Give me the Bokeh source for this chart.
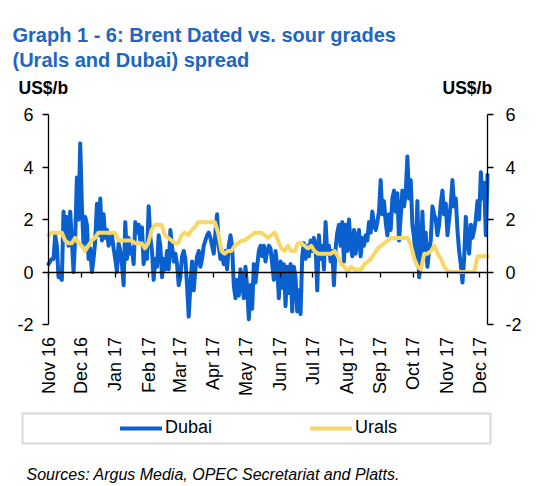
import math
import numpy as np
import pandas as pd
from bokeh.plotting import figure
from bokeh.models import (Range1d, LinearAxis, DatetimeAxis, FixedTicker, DatetimeTickFormatter,
                          Legend, LegendItem)
from bokeh.core.properties import value
from bokeh.embed import file_html
from bokeh.resources import INLINE

# ---------------- data ----------------
title_lines = ["Graph 1 - 6: Brent Dated vs. sour grades", "(Urals and Dubai) spread"]
unit_label = "US$/b"
source_text = "Sources: Argus Media, OPEC Secretariat and Platts."
series_names = ["Dubai", "Urals"]

months = ["2016-11-01", "2016-12-01", "2017-01-01", "2017-02-01", "2017-03-01", "2017-04-01",
          "2017-05-01", "2017-06-01", "2017-07-01", "2017-08-01", "2017-09-01", "2017-10-01",
          "2017-11-01", "2017-12-01"]
period_start = "2016-11-01"
period_end = "2017-12-08"

dubai = [0.3, 0.4, 0.5, 0.5, 1.4, 1.0, -0.2, -0.2, -0.3, 2.3, 1.2, 2.1, 1.0, 2.3, 1.2, 0.0,
         1.3, 3.6, 2.0, 4.9, 2.5, 1.0, 2.1, 1.8, 0.5, 0.9, 0.0, 0.5, 1.2, 2.6, 1.4, 2.8,
         1.2, 2.2, 1.3, 1.6, 1.0, 1.2, 1.4, 0.9, 0.5, 0.0, 1.1, 0.8, 0.3, -0.5, 1.9, 0.5,
         1.3, 0.7, 0.9, 0.3, 1.9, 1.5, 1.8, 1.2, 1.7, 0.3, 0.9, 0.5, 2.5, 1.3, 0.8, -0.3,
         0.5, 0.2, 1.4, 1.0, -0.2, 0.5, 0.1, 0.8, 0.1, 1.6, 1.0, 0.4, 0.7, 0.3, -0.5, -0.2,
         0.6, 0.8, 0.5, -0.5, -1.7, -0.5, 0.4, -0.7, 0.1, 0.6, 0.8, 0.2, 0.5, 1.0, 1.2, 1.4,
         1.5, 1.3, 1.0, 0.7, 1.5, 2.2, 1.0, 0.5, 0.6, 0.3, 0.8, 0.1, 1.0, 1.4, 1.0, -0.5,
         -1.0, -0.3, -0.9, 0.1, -0.4, -1.0, 0.2, -0.6, -1.8, -0.5, -1.4, 0.3, -0.4, 0.2, 0.8,
         1.0, 0.6, 1.0, 0.4, 0.8, 1.0, 0.9, 0.3, -0.3,
         0.8, 0.2, -1.0, 0.4, -0.6, 0.3, -1.3, 0.2, -0.8, 0.3, -1.5, 0.2, -0.2, -1.5, -0.7,
         -1.6, 0.6, 1.1, 0.5, 1.0, 0.6, 1.2, 0.8, 1.3, 1.0, -0.7, 1.4, 0.5, 1.0, 0.1, 1.9,
         0.7, 1.0, 0.4, 0.8, -0.5, 0.9, 1.5, 1.8, 1.0, 1.9, 0.4, 1.8, 0.8, 2.0, 1.0, 0.6,
         1.6, 0.7, 1.3, 1.6, 0.6, 1.3, 1.0, 1.4, 1.2, 1.9, 1.5, 2.3, 1.8, 1.6, 1.9, 2.3,
         3.5, 2.2, 2.7, 1.9, 1.4, 2.2, 1.6, 2.8, 3.1, 2.3, 3.0, 1.2, 2.1, 3.1, 2.5, 3.0,
         4.4, 2.8, 3.5, 1.8, 1.3, 0.5, 2.7, -0.2, 0.3, 2.3, 0.5, 1.5, 0.2, 0.8, 1.2, 2.5,
         2.2, 2.0, 1.4, 1.8, 2.6, 3.1, 2.2, 2.6, 1.4, 2.0, 2.6, 3.5, 2.5, 2.8, 1.6, 0.8,
         0.3, -0.4, 0.5, 2.1, 1.2, 0.7, 1.8, 1.3, 1.6, 2.0, 2.7, 2.0, 3.8, 2.8, 3.4, 1.4, 3.7]

urals = [1.4, 1.5, 1.5, 1.5, 1.5, 1.2, 1.1, 1.1, 1.3, 1.1, 1.0, 0.8, 1.0, 1.2, 1.3, 1.5,
         1.5, 1.5, 1.5, 1.5, 1.5, 1.2, 1.2, 1.2, 1.2, 1.2, 1.1, 1.1, 1.1, 0.9, 1.1, 1.6,
         1.8, 1.8, 1.8, 1.4, 1.3, 1.2, 1.1, 1.1, 1.4, 1.5, 1.4, 1.6, 1.7, 1.9, 1.9, 1.9,
         1.9, 1.9, 1.9, 1.5, 0.8, 0.7, 0.8, 0.8, 1.0, 1.1, 1.2, 1.2, 1.3, 1.4, 1.5, 1.5,
         1.5, 1.4, 1.3, 1.4, 1.5,
         1.2, 0.9, 0.8, 1.0, 0.8, 0.8, 1.1, 1.1, 1.0, 0.9, 1.0, 0.8, 0.7, 0.7, 0.7, 0.7,
         0.7, 0.8, 0.6, 0.3, 0.2, 0.0, 0.2, 0.1, 0.1, 0.1, 0.3, 0.4, 0.5, 0.7, 0.9, 1.0,
         1.1, 1.2, 1.3, 1.3, 1.3, 1.3, 1.3, 1.3, 1.0, 0.5, 0.2, 0.1, 0.7, 0.7, 0.8, 1.0,
         0.7, 0.5, 0.2, 0.05, 0.0, 0.0, 0.0, 0.0, 0.0, 0.0, 0.0, 0.0, 0.6, 0.6, 0.6, 0.6]

y_min, y_max = -2, 6
y_ticks = [-2, 0, 2, 4, 6]

# ---------------- style / layout ----------------
DUBAI_COLOR = "#0A60CE"
URALS_COLOR = "#F8D766"
TITLE_COLOR = "#1E66BE"
FONT = "Liberation Sans"
W, H = 550, 486
PLOT_L, PLOT_R, PLOT_T, PLOT_B = 48, 487, 114, 324   # chart area in canvas pixels
MONTH_LABEL_TOP = 337

dubai_dates = pd.date_range(period_start, period_end, periods=len(dubai))
urals_dates = pd.date_range(period_start, period_end, periods=len(urals))
month_ms = [d.value / 1e6 for d in pd.to_datetime(months)]
t0 = pd.Timestamp(period_start).value / 1e6
t1 = pd.Timestamp(period_end).value / 1e6

# ranges extended so that the chart area sits at PLOT_* inside a full-canvas frame
kx = (t1 - t0) / (PLOT_R - PLOT_L)
ky = (y_max - y_min) / (PLOT_B - PLOT_T)
x_range = Range1d(t0 - PLOT_L * kx, t1 + (W - PLOT_R) * kx)
y_range = Range1d(y_min - (H - PLOT_B) * ky, y_max + PLOT_T * ky)
zero_px = PLOT_T + (PLOT_B - PLOT_T) * y_max / (y_max - y_min)

p = figure(width=W, height=H, output_backend="svg", toolbar_location=None, title=None,
           x_range=x_range, y_range=y_range, x_axis_location=None, y_axis_location=None,
           min_border=0, min_border_left=0, min_border_right=0,
           min_border_top=0, min_border_bottom=0)
p.extra_x_ranges = {"px": Range1d(0, W)}
p.extra_y_ranges = {"px": Range1d(H, 0)}
p.outline_line_color = None
p.grid.visible = False
p.background_fill_color = "white"
p.border_fill_color = "white"

# x axis on the zero line: line + month ticks, labels hanging below the chart
TICK_OUT = 5
xa = DatetimeAxis(fixed_location=0, bounds=(t0, t1),
                  ticker=FixedTicker(ticks=month_ms),
                  formatter=DatetimeTickFormatter(months="%b %y", days="%b %y"))
xa.axis_line_color = "black"
xa.axis_line_width = 1.3
xa.major_tick_line_color = "black"
xa.major_tick_line_width = 1.3
xa.major_tick_in = 0
xa.major_tick_out = TICK_OUT
xa.minor_tick_line_color = None
xa.major_label_standoff = int(round(MONTH_LABEL_TOP - zero_px - TICK_OUT))
xa.major_label_orientation = math.pi / 2
xa.major_label_text_font = FONT
xa.major_label_text_font_size = "18px"
xa.major_label_text_color = "black"
p.add_layout(xa, "below")


def make_y_axis(loc, standoff):
    ax = LinearAxis(fixed_location=loc, bounds=(y_min, y_max), ticker=FixedTicker(ticks=y_ticks),
                    major_label_overrides={t: str(t) for t in y_ticks})
    ax.minor_tick_line_color = None
    ax.major_tick_in = 0
    ax.major_tick_out = 6
    ax.axis_line_width = 1.3
    ax.major_tick_line_width = 1.3
    ax.major_label_standoff = standoff
    ax.major_label_text_font = FONT
    ax.major_label_text_font_size = "18px"
    ax.major_label_text_color = "black"
    return ax


p.add_layout(make_y_axis(t0, 9), "left")
p.add_layout(make_y_axis(t1, 12), "right")

# series
r_dubai = p.line(dubai_dates, dubai, line_color=DUBAI_COLOR, line_width=4,
                 line_join="round", line_cap="round")
r_urals = p.line(urals_dates, urals, line_color=URALS_COLOR, line_width=4,
                 line_join="round", line_cap="round")

# texts (canvas-pixel range)
p.text(x=[12, 12], y=[34, 59], text=title_lines, text_font=value(FONT),
       text_font_style=value("bold"), text_font_size=value("20px"),
       text_color=TITLE_COLOR, text_baseline=value("alphabetic"),
       x_range_name="px", y_range_name="px")
p.text(x=[18, 442], y=[87, 87], text=[unit_label, unit_label], text_font=value(FONT),
       text_font_style=value("bold"), text_font_size=value("17.5px"),
       text_color="black", text_baseline=value("alphabetic"),
       x_range_name="px", y_range_name="px")
p.text(x=[26], y=[474], text=[source_text], text_font=value(FONT),
       text_font_style=value("italic"), text_font_size=value("16px"),
       text_color="black", text_baseline=value("alphabetic"),
       x_range_name="px", y_range_name="px")

# legend frame and legends
p.quad(left=[22], right=[490], top=[413], bottom=[443], fill_color=None,
       line_color="#D9D9D9", line_width=2, x_range_name="px", y_range_name="px")

for name, rend, xpos in [(series_names[0], r_dubai, 120), (series_names[1], r_urals, 310)]:
    lg = Legend(items=[LegendItem(label=name, renderers=[rend])],
                location=(xpos, H - 438), orientation="horizontal",
                padding=0, margin=0, border_line_color=None, background_fill_alpha=0,
                glyph_width=42, glyph_height=20, label_height=20, label_standoff=3,
                label_text_font=FONT, label_text_font_size="18px", label_text_color="black")
    p.add_layout(lg, "center")

open("out.html", "w").write(file_html(p, INLINE))
